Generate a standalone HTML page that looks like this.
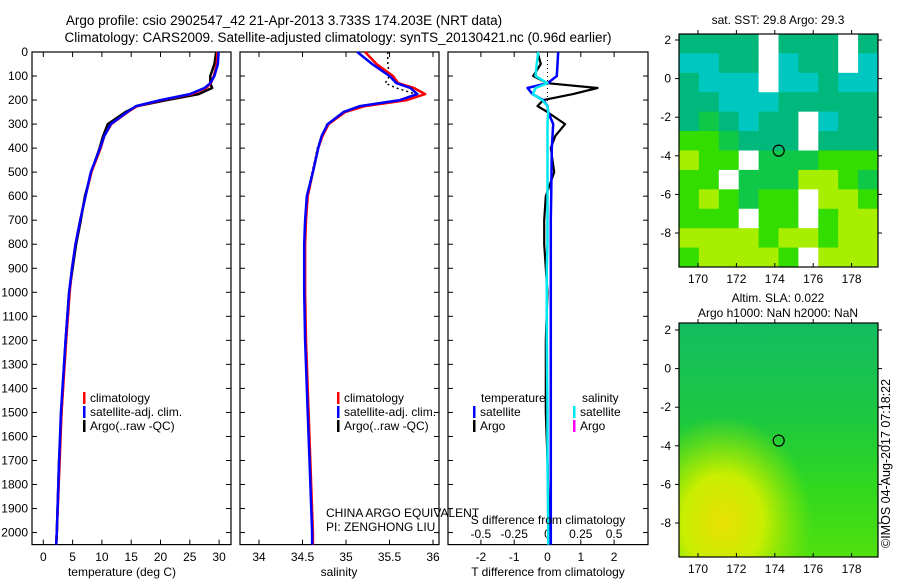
<!DOCTYPE html>
<html><head><meta charset="utf-8"><style>
body{margin:0;background:#fff}
svg{display:block;font-family:"Liberation Sans",sans-serif;font-size:12px}
</style></head><body>
<svg id="fig" width="900" height="580" viewBox="0 0 900 580">
<g text-anchor="middle" font-size="13.5">
<text x="284" y="25">Argo profile: csio 2902547_42 21-Apr-2013 3.733S 174.203E (NRT data)</text>
<text x="338" y="42">Climatology: CARS2009. Satellite-adjusted climatology: synTS_20130421.nc (0.96d earlier)</text>
</g>
<g id="p1"></g>
<g id="p2"></g>
<g id="p3"></g>
<g id="m1"></g>
<g id="m2"></g>
<text x="890" y="548" transform="rotate(-90 890 548)" font-size="12.5">©IMOS 04-Aug-2017 07:18:22</text>
</svg>
<script>
// ---- data ----
const depths = [0,50,100,130,150,175,200,225,250,300,350,400,500,600,700,800,900,1000,1200,1500,1700,2000,2050];
const tempClim = [29.7,29.6,29.1,28.6,27.8,25.3,20.2,16.0,14.4,11.6,10.4,9.8,8.2,7.2,6.3,5.5,4.9,4.5,3.9,3.1,2.8,2.3,2.2];
const tempSat  = [29.9,29.8,29.2,28.5,27.5,25.0,20.0,15.8,14.3,11.5,10.4,9.7,8.1,7.2,6.3,5.5,4.9,4.4,3.8,3.0,2.7,2.3,2.2];
const tempArgo = [29.5,29.2,28.5,28.5,28.8,26.5,21.0,16.0,14.0,11.0,10.2,9.6,8.2,7.1,6.4,5.6,5.0,4.4,3.8,3.1,2.7,2.3,2.2];
const salClim = [35.22,35.35,35.54,35.60,35.78,35.91,35.70,35.22,34.99,34.80,34.73,34.68,34.62,34.56,34.54,34.53,34.53,34.53,34.54,34.57,34.59,34.62,34.62];
const salSat  = [35.13,35.30,35.50,35.58,35.74,35.82,35.62,35.16,34.97,34.79,34.72,34.68,34.62,34.55,34.53,34.52,34.52,34.52,34.53,34.56,34.58,34.61,34.61];
const salArgo = [35.48,35.48,35.50,35.45,35.58,35.80,35.65,35.18,34.97,34.78,34.72,34.67,34.61,34.55,34.53,34.52,34.52,34.52,34.53,34.56,34.58,34.61,34.61];
const dTSat  = [0.32,0.3,0.28,0.0,-0.6,-0.45,-0.13,0.0,0.02,0.17,0.15,0.13,0.12,0.11,0.1,0.1,0.1,0.1,0.1,0.1,0.1,0.1,0.1];
const dTArgo = [-0.3,-0.2,-0.43,0.0,1.5,0.77,-0.13,-0.3,0.0,0.53,0.23,0.1,0.2,-0.05,-0.1,-0.1,-0.05,0.0,-0.05,-0.05,0.0,0.05,0.05];
const dSSat  = [-0.07,-0.08,-0.09,0.0,-0.09,-0.11,-0.04,0.0,0.005,0.0,0.0,0.0,0.0,0.0,0.0,0.0,-0.005,-0.005,-0.005,0.0,0.0,0.005,0.005];
const depthTicks = [0,100,200,300,400,500,600,700,800,900,1000,1100,1200,1300,1400,1500,1600,1700,1800,1900,2000];
const tempTicks = [0,5,10,15,20,25,30];
const salTicks = [34,34.5,35,35.5,36];
const dTTicks = [-2,-1,0,1,2];
const dSTicks = [-0.5,-0.25,0,0.25,0.5];
const lonTicks = [170,172,174,176,178];
const latTicks = [2,0,-2,-4,-6,-8];
const argoLon = 174.203, argoLat = -3.733;
// SST map colour classes (rows north->south, 10 cols)
const sstGrid = [
"1111511151","0011501150","1000500100","1100011111","1210115011",
"3321115111","4335222333","3352224432","3432335443","3335335344",
"4444344344","3444435444"];
const sstColors = ["#00c8c0","#00b87c","#10c848","#33dd00","#a8ee00","#ffffff"];

// ---- helpers ----
const NS="http://www.w3.org/2000/svg";
function mk(parent,tag,attrs,txt){const e=document.createElementNS(NS,tag);for(const k in attrs)e.setAttribute(k,attrs[k]);if(txt!==undefined)e.textContent=txt;parent.appendChild(e);return e;}
const Y0=52, Y1=544.6;
const yD = d => Y0 + d*(Y1-Y0)/2050;
const xT = t => 43.3 + t*5.86;
const xS = s => 259 + (s-34)*87;
const xDT = t => 547.5 + t*33.3;
const xDS = s => xDT(s*4);

function frame(g,x0,x1,withY){
  const r=mk(g,'rect',{x:x0,y:Y0,width:x1-x0,height:Y1-Y0,fill:'none',stroke:'#000','stroke-width':1.2});
  
  
  depthTicks.forEach(d=>{
    mk(g,'line',{x1:x0,x2:x0+5,y1:yD(d),y2:yD(d),stroke:'#000'});
    mk(g,'line',{x1:x1-5,x2:x1,y1:yD(d),y2:yD(d),stroke:'#000'});
    if(withY){const t=mk(g,'text',{x:x0-4,y:yD(d)+4,'text-anchor':'end'},String(d));
      
      }
  });
}
function xticks(g,vals,fx,y){
  vals.forEach(v=>{
    mk(g,'line',{x1:fx(v),x2:fx(v),y1:Y1,y2:Y1-5,stroke:'#000'});
    mk(g,'line',{x1:fx(v),x2:fx(v),y1:Y0,y2:Y0+5,stroke:'#000'});
    const t=mk(g,'text',{x:fx(v),y:y,'text-anchor':'middle'},String(v));
    
    
  });
}
function line(g,xs,fx,color,w,name,dash){
  const pts=xs.map((v,i)=>fx(v).toFixed(1)+','+yD(depths[i]).toFixed(1)).join(' ');
  const a={points:pts,fill:'none',stroke:color,'stroke-width':w,'stroke-linejoin':'round'};
  if(dash)a['stroke-dasharray']=dash;
  const p=mk(g,'polyline',a);
  
  
}
function legend(g,x,y,items){
  items.forEach((it,i)=>{
    mk(g,'rect',{x:x,y:y+i*14-10,width:2.5,height:12,fill:it[0]});
    const t=mk(g,'text',{x:x+7,y:y+i*14},it[1]);
    
    
  });
}

// Panel 1
const p1=document.getElementById('p1');
frame(p1,32,231,true);
xticks(p1,tempTicks,xT,561);
line(p1,tempArgo,xT,'#000',2.5,'argo-temperature-line');
line(p1,tempClim,xT,'#f00',2.5,'climatology-temperature-line');
line(p1,tempSat,xT,'#0000ff',2.5,'satellite-temperature-line');
legend(p1,83,402,[['#f00','climatology'],['#0000ff','satellite-adj. clim.'],['#000','Argo(..raw -QC)']]);
mk(p1,'text',{x:122,y:576,'text-anchor':'middle'},'temperature (deg C)');

// Panel 2
const p2=document.getElementById('p2');
frame(p2,240,439,false);
xticks(p2,salTicks,xS,561);
line(p2,salArgo,xS,'#000',1.5,'argo-salinity-line','2,3');
line(p2,salClim,xS,'#f00',2.5,'climatology-salinity-line');
line(p2,salSat,xS,'#0000ff',2.5,'satellite-salinity-line');
legend(p2,337,402,[['#f00','climatology'],['#0000ff','satellite-adj. clim.'],['#000','Argo(..raw -QC)']]);
mk(p2,'text',{x:326,y:517},'CHINA ARGO EQUIVALENT');
mk(p2,'text',{x:326,y:531},'PI: ZENGHONG LIU');
mk(p2,'text',{x:339,y:576,'text-anchor':'middle'},'salinity');

// Panel 3
const p3=document.getElementById('p3');
frame(p3,448,648,false);
xticks(p3,dTTicks,xDT,561);
dSTicks.forEach(v=>{const t=mk(p3,'text',{x:xDS(v),y:538,'text-anchor':'middle'},String(v));
  
  });
mk(p3,'line',{x1:xDT(0),x2:xDT(0),y1:Y0,y2:Y1,stroke:'#000','stroke-dasharray':'1,3'});
line(p3,dTArgo,xDT,'#000',2.2,'argo-t-difference-line');
line(p3,dTSat,xDT,'#0000ff',2.5,'satellite-t-difference-line');
line(p3,dSSat,xDS,'#00e8f0',2.5,'satellite-s-difference-line');
mk(p3,'text',{x:481,y:402},'temperature');
mk(p3,'text',{x:582,y:402},'salinity');
legend(p3,473,416,[['#0000ff','satellite'],['#000','Argo']]);
legend(p3,573,416,[['#00e8f0','satellite'],['#ff00ff','Argo']]);
mk(p3,'text',{x:548,y:524,'text-anchor':'middle'},'S difference from climatology');
mk(p3,'text',{x:548,y:576,'text-anchor':'middle'},'T difference from climatology');

// Maps
function mapAxes(g,x0,y0,x1,y1,fLon,fLat){
  mk(g,'rect',{x:x0,y:y0,width:x1-x0,height:y1-y0,fill:'none',stroke:'#000','stroke-width':1.2});
  lonTicks.forEach(v=>{mk(g,'line',{x1:fLon(v),x2:fLon(v),y1:y1,y2:y1-4,stroke:'#000'});
    mk(g,'line',{x1:fLon(v),x2:fLon(v),y1:y0,y2:y0-4,stroke:'#000'});
    const t=mk(g,'text',{x:fLon(v),y:y1+16,'text-anchor':'middle'},String(v));
    
    });
  latTicks.forEach(v=>{mk(g,'line',{x1:x1,x2:x1+4,y1:fLat(v),y2:fLat(v),stroke:'#000'});
    mk(g,'line',{x1:x0-4,x2:x0,y1:fLat(v),y2:fLat(v),stroke:'#000'});
    const t=mk(g,'text',{x:x0-8,y:fLat(v)+4,'text-anchor':'end'},String(v));
    
    });
  const c=mk(g,'circle',{cx:fLon(argoLon),cy:fLat(argoLat),r:5.5,fill:'none',stroke:'#000','stroke-width':1.2});
  
  
}
const m1=document.getElementById('m1');
const lon1=v=>698+(v-170)*19.2, lat1=v=>40+(2-v)*19.3;
const mx0=679,mx1=878,my0=34,my1=267;
const cw=(mx1-mx0)/10, ch=(my1-my0)/sstGrid.length;
sstGrid.forEach((row,r)=>{[...row].forEach((c,k)=>{
  const cell=mk(m1,'rect',{x:mx0+k*cw,y:my0+r*ch,width:cw+0.5,height:ch+0.5,fill:sstColors[+c]});
  
  
});});
mapAxes(m1,mx0,my0,mx1,my1,lon1,lat1);
mk(m1,'text',{x:778,y:24,'text-anchor':'middle'},'sat. SST: 29.8 Argo: 29.3');

const m2=document.getElementById('m2');
const defs=mk(document.getElementById('fig'),'defs',{});
const lg=mk(defs,'linearGradient',{id:'slaLin',x1:0,y1:0,x2:0,y2:1});
mk(lg,'stop',{offset:'0','stop-color':'#14bc60'});
mk(lg,'stop',{offset:'0.4','stop-color':'#1cc840'});
mk(lg,'stop',{offset:'0.7','stop-color':'#30d820'});
mk(lg,'stop',{offset:'1','stop-color':'#50e010'});
const rg=mk(defs,'radialGradient',{id:'slaRad',cx:0.22,cy:0.85,r:0.45});
mk(rg,'stop',{offset:'0','stop-color':'#e8e000'});
mk(rg,'stop',{offset:'0.45','stop-color':'#c8ee00'});
mk(rg,'stop',{offset:'1','stop-color':'#a0e800','stop-opacity':'0'});
const ny0=323,ny1=557;
const lat2=v=>330+(2-v)*19.3;
mk(m2,'rect',{x:mx0,y:ny0,width:mx1-mx0,height:ny1-ny0,fill:'url(#slaLin)'});
mk(m2,'rect',{x:mx0,y:ny0,width:mx1-mx0,height:ny1-ny0,fill:'url(#slaRad)'});
mapAxes(m2,mx0,ny0,mx1,ny1,lon1,lat2);
mk(m2,'text',{x:778,y:302,'text-anchor':'middle'},'Altim. SLA: 0.022');
mk(m2,'text',{x:778,y:317,'text-anchor':'middle'},'Argo h1000: NaN h2000: NaN');
</script>
</body></html>
